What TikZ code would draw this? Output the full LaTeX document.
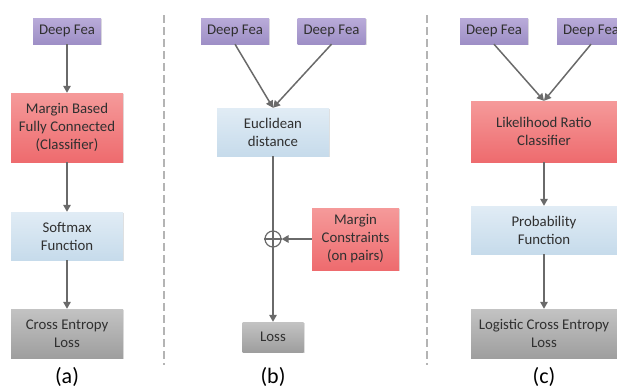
\documentclass[tikz,border=0pt]{standalone}
\usepackage{fontspec}
\setmainfont{Carlito}
\usetikzlibrary{arrows.meta,shadows}

\definecolor{feaTop}{HTML}{B9ABD9}
\definecolor{feaBot}{HTML}{9E8FC6}
\definecolor{redTop}{HTML}{F59A9A}
\definecolor{redBot}{HTML}{EE6B6E}
\definecolor{bluTop}{HTML}{E1ECF5}
\definecolor{bluBot}{HTML}{C6DBEB}
\definecolor{gryTop}{HTML}{C3C3C3}
\definecolor{gryBot}{HTML}{9E9E9E}
\definecolor{txtgray}{HTML}{303030}
\definecolor{linegray}{HTML}{6A6A6A}
\definecolor{sepgray}{HTML}{B4B4B4}

\begin{document}
\begin{tikzpicture}[x=1pt, y=-1pt, >={Triangle[length=7pt, width=7.5pt]},
    box/.style={inner sep=0pt, align=center, text=txtgray,
        font=\fontsize{14.8}{18}\selectfont,
        drop shadow={opacity=0.25, shadow xshift=1.2pt, shadow yshift=-1.2pt}},
    fea/.style={box, top color=feaTop, bottom color=feaBot, minimum width=68pt, minimum height=26pt},
    redbox/.style={box, top color=redTop, bottom color=redBot},
    blubox/.style={box, top color=bluTop, bottom color=bluBot},
    grybox/.style={box, top color=gryTop, bottom color=gryBot},
    flow/.style={draw=linegray, line width=1.5pt},
    sep/.style={draw=sepgray, line width=1.4pt, dash pattern=on 8pt off 4pt},
    sublabel/.style={font=\fontsize{22}{24}\selectfont, text=black}]
    \useasboundingbox (0,0) rectangle (617,389);

    % Trennlinien
    \draw[sep] (164,15) -- (164,365);
    \draw[sep] (427,15) -- (427,365);

    % (a)
    \node[fea] (feaA) at (67,31) {Deep Fea};
    \node[redbox, minimum width=112pt, minimum height=69pt] (marginA) at (67,127.5)
        {Margin Based\\Fully Connected\\(Classifier)};
    \node[blubox, minimum width=112pt, minimum height=48pt] (softA) at (67,236) {Softmax\\Function};
    \node[grybox, minimum width=112pt, minimum height=49pt] (ceA) at (67,333.5) {Cross Entropy\\Loss};
    \draw[flow, ->] (feaA) -- (marginA);
    \draw[flow, ->] (marginA) -- (softA);
    \draw[flow, ->] (softA) -- (ceA);
    \node[sublabel] (capA) at (67,376.5) {(a)};

    % (b)
    \node[fea] (feaB1) at (235,31) {Deep Fea};
    \node[fea] (feaB2) at (331.5,31) {Deep Fea};
    \node[blubox, minimum width=112pt, minimum height=48pt] (eucB) at (273,132) {Euclidean\\distance};
    \node[draw=linegray, line width=1.2pt, circle, minimum size=16pt, inner sep=0pt] (plusB) at (273,239) {};
    \node[redbox, minimum width=87pt, minimum height=62pt] (mcB) at (355.5,239)
        {Margin\\Constraints\\(on pairs)};
    \node[grybox, minimum width=61pt, minimum height=30pt] (lossB) at (273,337) {Loss};
    \draw[flow, ->] (feaB1.south) -- (eucB.north);
    \draw[flow, ->] (feaB2.south) -- (eucB.north);
    \draw[flow] (eucB.south) -- (plusB.north);
    \draw[draw=linegray, line width=1.2pt] (plusB.west) -- (plusB.east) (plusB.north) -- (plusB.south);
    \draw[flow, ->] (mcB.west) -- (plusB.east);
    \draw[flow, ->] (plusB.south) -- (lossB.north);
    \node[sublabel] (capB) at (273,376.5) {(b)};

    % (c)
    \node[fea] (feaC1) at (494,31) {Deep Fea};
    \node[fea] (feaC2) at (591,31) {Deep Fea};
    \node[redbox, minimum width=146pt, minimum height=61pt] (lrC) at (544,131.5) {Likelihood Ratio\\Classifier};
    \node[blubox, minimum width=146pt, minimum height=48pt] (probC) at (544,230) {Probability\\Function};
    \node[grybox, minimum width=146pt, minimum height=49pt] (lceC) at (544,333.5) {Logistic Cross Entropy\\Loss};
    \draw[flow, ->] (feaC1.south) -- (lrC.north);
    \draw[flow, ->] (feaC2.south) -- (lrC.north);
    \draw[flow, ->] (lrC) -- (probC);
    \draw[flow, ->] (probC) -- (lceC);
    \node[sublabel] (capC) at (544,376.5) {(c)};
\end{tikzpicture}
\end{document}
